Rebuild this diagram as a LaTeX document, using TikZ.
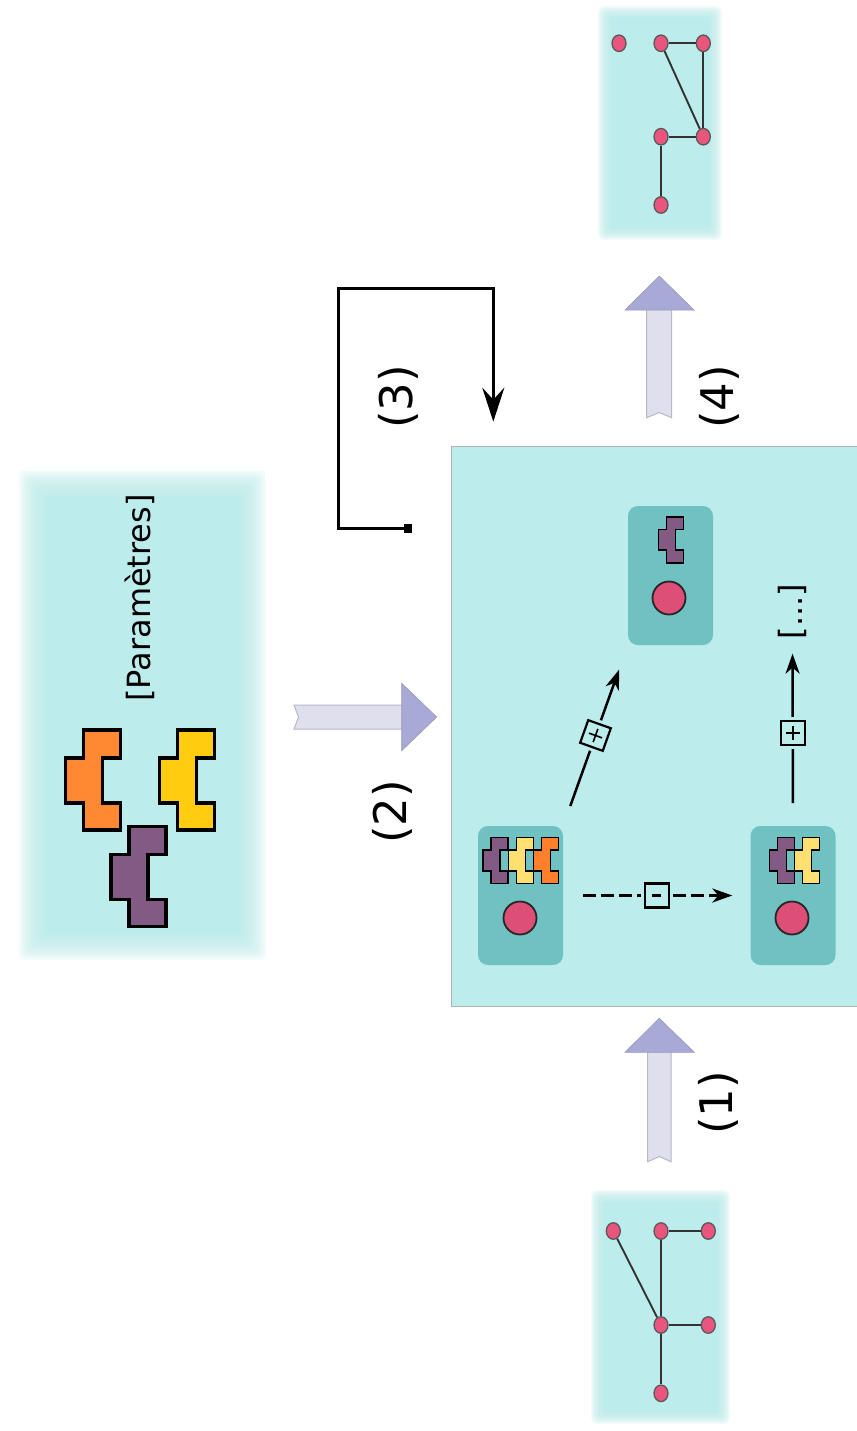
\documentclass[tikz,border=0pt]{standalone}
\usepackage{fontspec}
\setmainfont{DejaVu Sans}
\usetikzlibrary{arrows.meta,shapes.geometric,calc}
\definecolor{panelc}{HTML}{BCECEB}
\definecolor{innerc}{HTML}{70C1C1}
\definecolor{dotc}{HTML}{DE4F78}
\definecolor{gnodec}{HTML}{E9557D}
\definecolor{porange}{HTML}{FF8833}
\definecolor{pyellow}{HTML}{FFCC0F}
\definecolor{ppurple}{HTML}{835A84}
\definecolor{syellow}{HTML}{FFE070}
\definecolor{sorange}{HTML}{FF7F2A}
\definecolor{shaftc}{HTML}{DFDFEE}
\definecolor{shaftb}{HTML}{B8B8CA}
\definecolor{headc}{HTML}{A9A9D6}
\definecolor{edgec}{HTML}{333333}

\newcommand\tetpiece[5]{%
  \begin{scope}[shift={(#1,#2)},x=#3pt,y=-#3pt]
    \draw[fill=#4,line width=#5,line join=miter] (18,0) -- (55,0) -- (55,28) -- (37,28) -- (37,73) -- (55,73) -- (55,100) -- (18,100) -- (18,73) -- (0,73) -- (0,28) -- (18,28) -- cycle;
  \end{scope}}

\newcommand\fuzzyrect[5]{%
  \foreach \k in {0,...,11}{%
    \pgfmathsetmacro\dd{#5*(1-\k/5.5)}%
    \fill[panelc,fill opacity=0.16,rounded corners=6pt] ({#1-\dd},{#2-\dd}) rectangle ({#3+\dd},{#4+\dd});
  }%
  \fill[panelc,rounded corners=3pt] ({#1+#5},{#2+#5}) rectangle ({#3-#5},{#4-#5});
}

\begin{document}
\begin{tikzpicture}[x=1pt,y=-1pt,
  lbl/.style={font=\fontsize{45}{54}\selectfont, inner sep=0pt, rotate=90},
  txt/.style={font=\fontsize{32}{38}\selectfont, inner sep=0pt, rotate=90},
  innerbox/.style={fill=innerc, rounded corners=10pt, minimum width=85pt, minimum height=139pt, inner sep=0pt},
  dotnode/.style={circle, fill=dotc, draw=black!85, line width=1.8pt, minimum size=33pt, inner sep=0pt},
  gnode/.style={ellipse, fill=gnodec, draw=black!65, line width=1.3pt, minimum width=14pt, minimum height=16.5pt, inner sep=0pt},
  gedge/.style={draw=edgec, line width=1.9pt},
  parrow/.style={line width=2.5pt, -{Stealth[length=20pt,width=14pt,inset=6pt]}},
  opbox/.style={solid, draw=black, line width=2.2pt, fill=panelc, minimum size=24pt, inner sep=0pt, preaction={draw=panelc, line width=8pt}},
  shaft/.style={fill=shaftc, draw=shaftb, line width=1pt, line join=miter},
  bhead/.style={fill=headc, draw=headc!90!black, line width=0.6pt, line join=miter}
]
\useasboundingbox (0,0) rectangle (856,1431);
\fill[white] (0,0) rectangle (856,1431);

% ---------- parameters box ----------
\fuzzyrect{32}{483}{253}{947}{13}
\node[txt] (params) at (140,598) {[Paramètres]};
\tetpiece{65.7}{730}{1}{porange}{3.4pt}
\tetpiece{159.3}{730}{1}{pyellow}{3.4pt}
\tetpiece{111}{826.5}{1}{ppurple}{3.4pt}

% ---------- graphs ----------
\fuzzyrect{604}{12}{716}{234}{6}
\fuzzyrect{597}{1196}{724}{1418}{6}

\node[gnode] (n1) at (619,43.3) {};
\node[gnode] (n2) at (661,43.3) {};
\node[gnode] (n3) at (703.3,43.3) {};
\node[gnode] (n4) at (661,136.7) {};
\node[gnode] (n5) at (703.3,136.7) {};
\node[gnode] (n6) at (661,205) {};
\draw[gedge] (n2) -- (n3);
\draw[gedge] (n2) -- (n5);
\draw[gedge] (n3) -- (n5);
\draw[gedge] (n4) -- (n5);
\draw[gedge] (n4) -- (n6);

\node[gnode] (m1) at (613.3,1231) {};
\node[gnode] (m2) at (661,1231) {};
\node[gnode] (m3) at (708.3,1231) {};
\node[gnode] (m4) at (661,1325) {};
\node[gnode] (m5) at (708.3,1325) {};
\node[gnode] (m6) at (661,1393.3) {};
\draw[gedge] (m1) -- (m4);
\draw[gedge] (m2) -- (m3);
\draw[gedge] (m2) -- (m4);
\draw[gedge] (m4) -- (m5);
\draw[gedge] (m4) -- (m6);

% ---------- main panel ----------
\node[draw=black!30, line width=1pt, fill=panelc, minimum width=406pt, minimum height=560pt, inner sep=0pt] (panel) at (654,726) {};

\node[innerbox] (boxA) at (520.5,895.5) {};
\node[innerbox] (boxB) at (793,895.5) {};
\node[innerbox] (boxC) at (670.5,575.5) {};

\node[dotnode] (dotA) at (520,918) {};
\node[dotnode] (dotB) at (792,918) {};
\node[dotnode] (dotC) at (669,598) {};

\tetpiece{482.7}{837.3}{0.46}{ppurple}{1.6pt}
\tetpiece{508.3}{837.3}{0.46}{syellow}{1.6pt}
\tetpiece{533.3}{837.3}{0.46}{sorange}{1.6pt}
\tetpiece{769.3}{837.3}{0.46}{ppurple}{1.6pt}
\tetpiece{794.3}{837.3}{0.46}{syellow}{1.6pt}
\tetpiece{658.3}{516.7}{0.46}{ppurple}{1.6pt}

\node[txt] (dots) at (792.5,611.7) {[...]};

\draw[parrow, dash pattern=on 13pt off 5pt, shorten <=20pt, shorten >=18pt] (boxA.east) -- node[opbox] (minus) {\rule[-1.6pt]{9pt}{3.2pt}} (boxB.west);
\draw[parrow, shorten <=21pt, shorten >=26pt] (boxA.north east) -- node[opbox, sloped] (plusA) {\makebox[0pt]{\rule[-0.8pt]{14pt}{1.6pt}}\makebox[0pt]{\rule[-7pt]{1.6pt}{14pt}}} (boxC.south west);
\draw[parrow, shorten <=22.7pt, shorten >=14pt] (boxB.north) -- node[opbox] (plusB) {\makebox[0pt]{\rule[-0.8pt]{14pt}{1.6pt}}\makebox[0pt]{\rule[-7pt]{1.6pt}{14pt}}} (dots.west);

% ---------- feedback loop (3) ----------
\coordinate (fbstart) at (411.7,528.3);
\coordinate (fbcorner) at (338.3,288.3);
\coordinate (fbend) at (493.3,421.7);
\draw[line width=3.5pt, line join=miter, {Square[length=8pt,width=9pt]}-{Stealth[length=34pt,width=22pt,inset=12pt]}] (fbstart) -| (fbcorner) -| (fbend);

% ---------- block arrows ----------
\draw[shaft] (294,705) -- (403,705) -- (403,729) -- (294,729) -- (298.5,717) -- cycle;
\draw[bhead] (401.7,683.3) -- (436.7,717) -- (401.7,750.7) -- cycle;

\draw[shaft] (647.7,1051) -- (671,1051) -- (671,1161.7) -- (659.3,1156.5) -- (647.7,1161.7) -- cycle;
\draw[bhead] (625,1052.3) -- (659.3,1018.3) -- (694.3,1052.3) -- cycle;

\draw[shaft] (646.7,309) -- (671.7,309) -- (671.7,417.7) -- (659.2,412.5) -- (646.7,417.7) -- cycle;
\draw[bhead] (625,310) -- (659.3,276) -- (694,310) -- cycle;

% ---------- step labels ----------
\node[lbl] (l1) at (718,1103) {(1)};
\node[lbl] (l2) at (392,812) {(2)};
\node[lbl] (l3) at (398,397) {(3)};
\node[lbl] (l4) at (719,397) {(4)};
\end{tikzpicture}
\end{document}
